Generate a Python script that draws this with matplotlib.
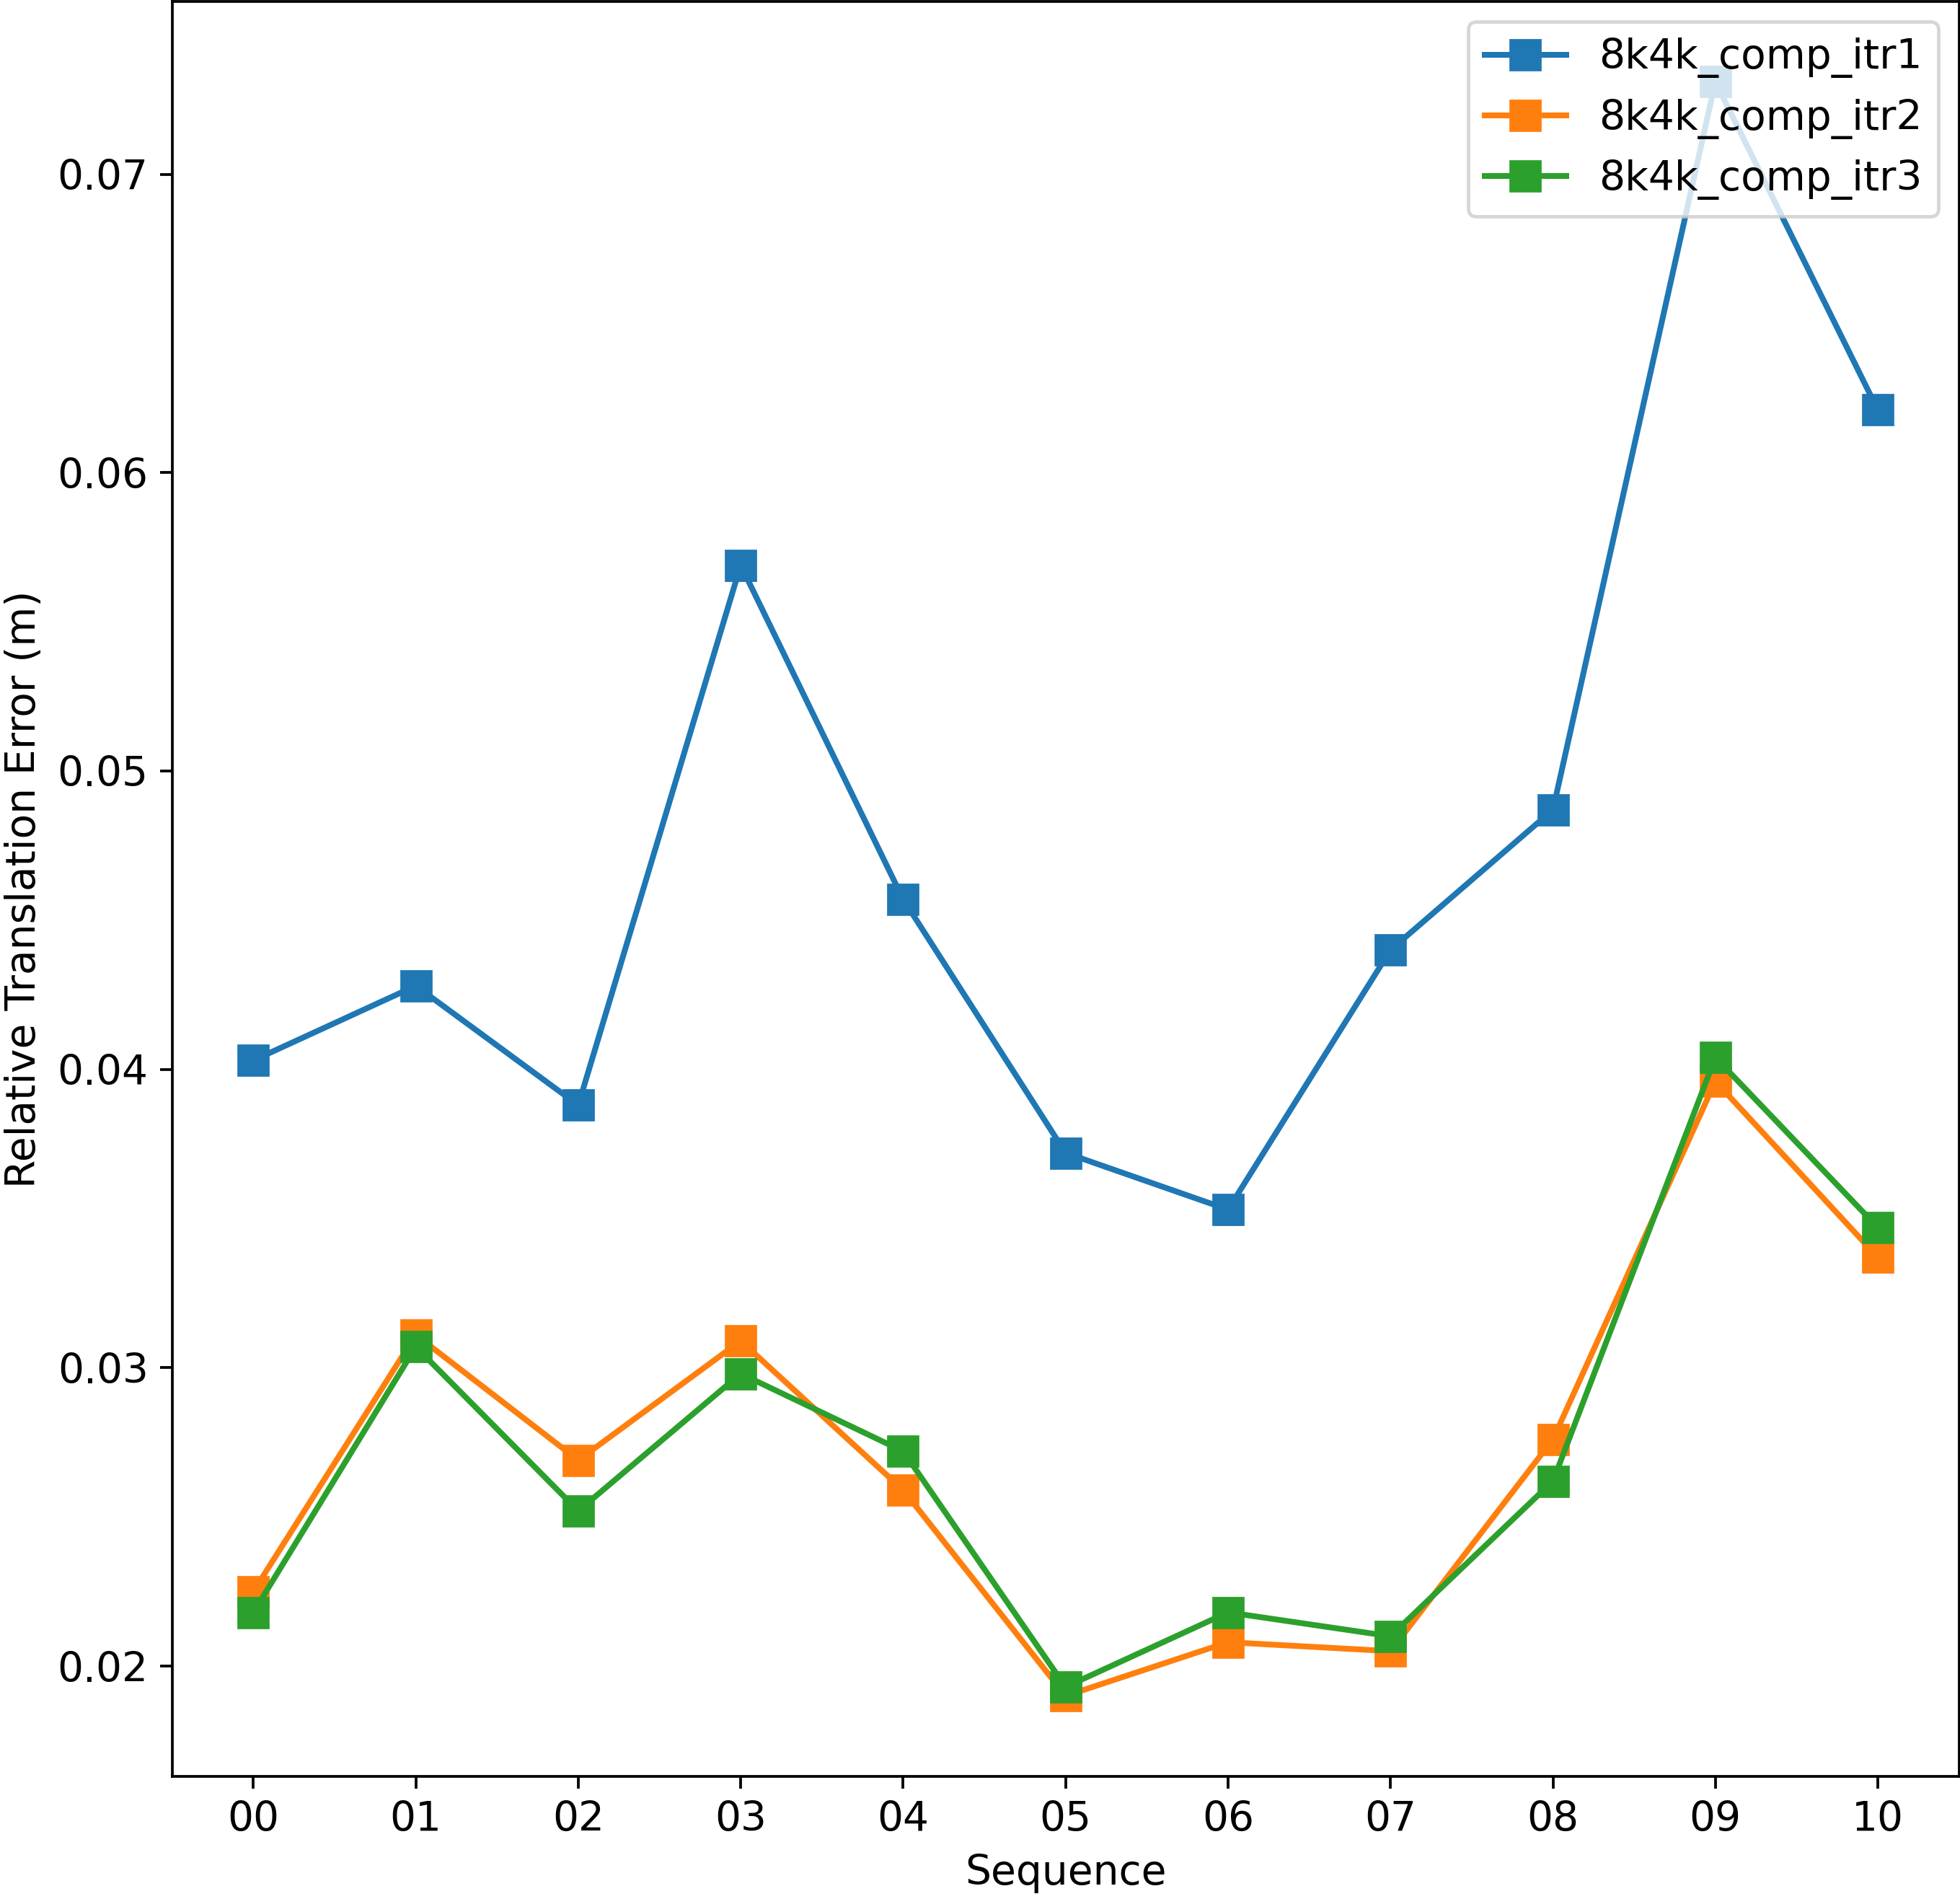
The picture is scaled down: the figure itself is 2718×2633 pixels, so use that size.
import matplotlib
matplotlib.use("Agg")
import matplotlib.pyplot as plt

sequences = ["00", "01", "02", "03", "04", "05", "06", "07", "08", "09", "10"]
itr1 = [0.0403, 0.0428, 0.0388, 0.0569, 0.0457, 0.0372, 0.0353, 0.0440, 0.0487, 0.0731, 0.0621]
itr2 = [0.0225, 0.0311, 0.0269, 0.0309, 0.0259, 0.0190, 0.0208, 0.0205, 0.0276, 0.0396, 0.0337]
itr3 = [0.0218, 0.0307, 0.0252, 0.0298, 0.0272, 0.0193, 0.0218, 0.0210, 0.0262, 0.0404, 0.0347]
series_labels = ["8k4k_comp_itr1", "8k4k_comp_itr2", "8k4k_comp_itr3"]

DPI = 340
plt.rcParams['font.family'] = ['DejaVu Sans']
plt.rcParams['font.size'] = 12

fig = plt.figure(figsize=(2718 / DPI, 2633 / DPI), dpi=DPI)
ax = fig.add_axes([238.7 / 2718, 1 - 2463.3 / 2633, (2716.7 - 238.7) / 2718, (2463.3 - 1.5) / 2633])

x = list(range(len(sequences)))
for vals, lab in zip([itr1, itr2, itr3], series_labels):
    ax.plot(x, vals, marker='s', markersize=8.5, linewidth=1.7, label=lab)

ax.set_xticks(x)
ax.set_xticklabels(sequences)
ax.set_xlim(-0.5, 10.5)
ax.set_xlabel("Sequence")
ax.set_ylabel("Relative Translation Error (m)")
ax.legend(loc='upper right')

fig.savefig("out.png", dpi=DPI)
